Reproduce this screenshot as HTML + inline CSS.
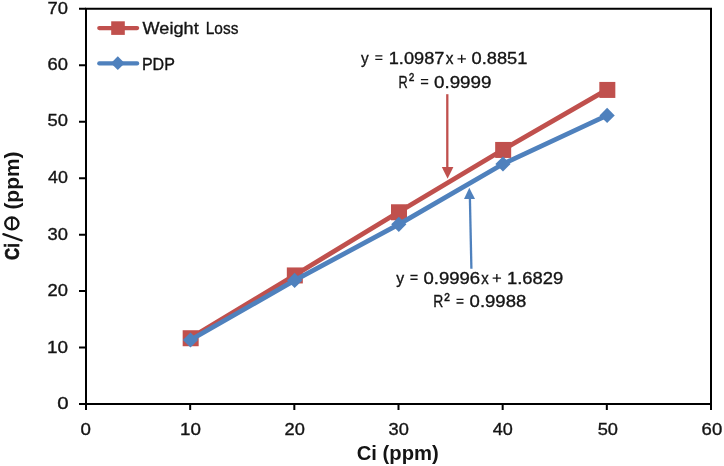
<!DOCTYPE html><html><head><meta charset="utf-8"><style>html,body{margin:0;padding:0;background:#fff;width:724px;height:466px;overflow:hidden}svg{display:block;will-change:transform}text{font-family:"Liberation Sans",sans-serif;fill:#141414;stroke:#141414;stroke-width:0.35px}</style></head><body>
<svg width="724" height="466" viewBox="0 0 724 466">
<rect width="724" height="466" fill="#fff"/>
<path d="M85 8.80H712M711 7.80V410M79 404H712M86 7.80V410" stroke="#000" stroke-width="2" fill="none"/>
<path d="M79 404.00H86M79 347.54H86M79 291.09H86M79 234.63H86M79 178.17H86M79 121.71H86M79 65.26H86M79 8.80H86M86.00 404V410M190.17 404V410M294.33 404V410M398.50 404V410M502.67 404V410M606.83 404V410M711.00 404V410" stroke="#000" stroke-width="2" fill="none"/>
<text transform="translate(57.20 409.20) scale(1.2000 1)" font-size="17" font-weight="normal">0</text>
<text transform="translate(46.91 352.90) scale(1.1118 1)" font-size="17" font-weight="normal">10</text>
<text transform="translate(47.49 296.20) scale(1.0800 1)" font-size="17" font-weight="normal">20</text>
<text transform="translate(47.49 240.00) scale(1.0800 1)" font-size="17" font-weight="normal">30</text>
<text transform="translate(48.04 183.20) scale(1.0500 1)" font-size="17" font-weight="normal">40</text>
<text transform="translate(47.49 126.20) scale(1.0800 1)" font-size="17" font-weight="normal">50</text>
<text transform="translate(47.49 70.20) scale(1.0800 1)" font-size="17" font-weight="normal">60</text>
<text transform="translate(47.49 14.00) scale(1.0800 1)" font-size="17" font-weight="normal">70</text>
<text transform="translate(80.38 435.20) scale(1.1000 1)" font-size="17" font-weight="normal">0</text>
<text transform="translate(180.02 435.20) scale(1.1059 1)" font-size="17" font-weight="normal">10</text>
<text transform="translate(284.59 435.20) scale(1.0743 1)" font-size="17" font-weight="normal">20</text>
<text transform="translate(388.59 435.20) scale(1.0743 1)" font-size="17" font-weight="normal">30</text>
<text transform="translate(492.83 435.20) scale(1.0611 1)" font-size="17" font-weight="normal">40</text>
<text transform="translate(597.69 435.20) scale(1.0743 1)" font-size="17" font-weight="normal">50</text>
<text transform="translate(701.58 435.20) scale(1.0914 1)" font-size="17" font-weight="normal">60</text>
<text transform="translate(142.60 34.20) scale(1.0667 1)" font-size="17" font-weight="normal">Weight</text>
<text transform="translate(205.76 34.20) scale(0.9088 1)" font-size="17" font-weight="normal">Loss</text>
<text transform="translate(141.92 69.50) scale(0.9435 1)" font-size="17" font-weight="normal">PDP</text>
<text transform="translate(361.10 64.00) scale(0.9059 1)" font-size="17" font-weight="normal">y</text>
<text transform="translate(388.76 64.00) scale(1.0700 1)" font-size="17" font-weight="normal">1.0987</text>
<text transform="translate(445.86 63.90) scale(0.9600 1)" font-size="16" font-weight="normal">x</text>
<text transform="translate(471.49 64.00) scale(1.0752 1)" font-size="17" font-weight="normal">0.8851</text>
<text transform="translate(396.30 284.00) scale(0.9294 1)" font-size="17" font-weight="normal">y</text>
<text transform="translate(423.48 284.00) scale(1.0891 1)" font-size="17" font-weight="normal">0.9996</text>
<text transform="translate(481.27 283.90) scale(0.9333 1)" font-size="16" font-weight="normal">x</text>
<text transform="translate(506.94 284.00) scale(1.0840 1)" font-size="17" font-weight="normal">1.6829</text>
<text transform="translate(398.56 87.90) scale(0.7512 1)" font-size="17" font-weight="normal">R</text>
<text transform="translate(408.88 85.55) scale(0.8952 1)" font-size="17.5" font-weight="normal">²</text>
<text transform="translate(433.97 87.60) scale(1.1050 1)" font-size="17" font-weight="normal">0.9999</text>
<text transform="translate(433.28 307.30) scale(0.8195 1)" font-size="17" font-weight="normal">R</text>
<text transform="translate(444.16 305.55) scale(0.9524 1)" font-size="17.5" font-weight="normal">²</text>
<text transform="translate(469.58 307.00) scale(1.0911 1)" font-size="17" font-weight="normal">0.9988</text>
<text transform="translate(356.74 459.70) scale(1.0126 1)" font-size="20" font-weight="bold" style="stroke-width:0">Ci (ppm)</text>
<path d="M375.30 55.80H382.40M375.30 59.30H382.40M410.40 275.50H417.60M410.40 279.20H417.60M420.90 79.60H428.20M420.90 83.50H428.20M456.50 299.40H463.50M456.50 303.00H463.50M457.50 58.85H465.90M461.70 54.65V63.05M492.65 278.10H501.05M496.85 273.90V282.30" stroke="#141414" stroke-width="1.35" fill="none"/>
<text transform="translate(19.40 260.02) rotate(-90) scale(0.8219 1.0)" font-size="20.5" font-weight="bold" style="stroke-width:0.6px">Ci</text>
<path d="M3.4 234.2L21.7 240.5" stroke="#141414" stroke-width="2.3" stroke-linecap="round"/>
<ellipse cx="11.85" cy="223.45" rx="6.65" ry="5.95" stroke="#141414" stroke-width="2.3" fill="none"/><path d="M11.9 217.8V229.1" stroke="#141414" stroke-width="1.9"/>
<text transform="translate(19.40 209.62) rotate(-90) scale(1.0218 1.0)" font-size="20.5" font-weight="bold" style="stroke-width:0px">(ppm)</text>
<polyline points="190.47,337.98 294.63,275.20 398.80,212.02 502.97,149.69 607.13,89.68" fill="none" stroke="#C0504D" stroke-width="4.8" stroke-linejoin="round" stroke-linecap="round"/>
<rect x="182.67" y="330.23" width="16" height="16" fill="#C0504D"/>
<rect x="286.83" y="267.45" width="16" height="16" fill="#C0504D"/>
<rect x="391.00" y="204.27" width="16" height="16" fill="#C0504D"/>
<rect x="495.17" y="141.94" width="16" height="16" fill="#C0504D"/>
<rect x="599.33" y="81.93" width="16" height="16" fill="#C0504D"/>
<polyline points="190.47,339.98 294.63,280.42 398.80,224.30 502.97,164.00 607.13,115.39" fill="none" stroke="#4F81BD" stroke-width="4.8" stroke-linejoin="round" stroke-linecap="round"/>
<path d="M190.47 332.38L198.07 339.98L190.47 347.58L182.87 339.98Z" fill="#4F81BD"/>
<path d="M294.63 272.82L302.23 280.42L294.63 288.02L287.03 280.42Z" fill="#4F81BD"/>
<path d="M398.80 216.70L406.40 224.30L398.80 231.90L391.20 224.30Z" fill="#4F81BD"/>
<path d="M502.97 156.40L510.57 164.00L502.97 171.60L495.37 164.00Z" fill="#4F81BD"/>
<path d="M607.13 107.79L614.73 115.39L607.13 122.99L599.53 115.39Z" fill="#4F81BD"/>
<path d="M99.3 28.1H137.1" stroke="#C0504D" stroke-width="4.3" stroke-linecap="round"/>
<rect x="111.2" y="21.3" width="13.6" height="13.6" fill="#C0504D"/>
<path d="M99.3 63.4H137.1" stroke="#4F81BD" stroke-width="4.3" stroke-linecap="round"/>
<path d="M117.8 56.3L124.7 63.2L117.8 70.1L110.9 63.2Z" fill="#4F81BD"/>
<path d="M447.3 94.2V168" stroke="#C0504D" stroke-width="2.3"/>
<path d="M441.8 167L453.4 167L447.6 178.7Z" fill="#C0504D"/>
<path d="M471.4 268.8L469.9 198" stroke="#4F81BD" stroke-width="2.3"/>
<path d="M469.3 187.7L475 199L464 199Z" fill="#4F81BD"/>
</svg></body></html>
